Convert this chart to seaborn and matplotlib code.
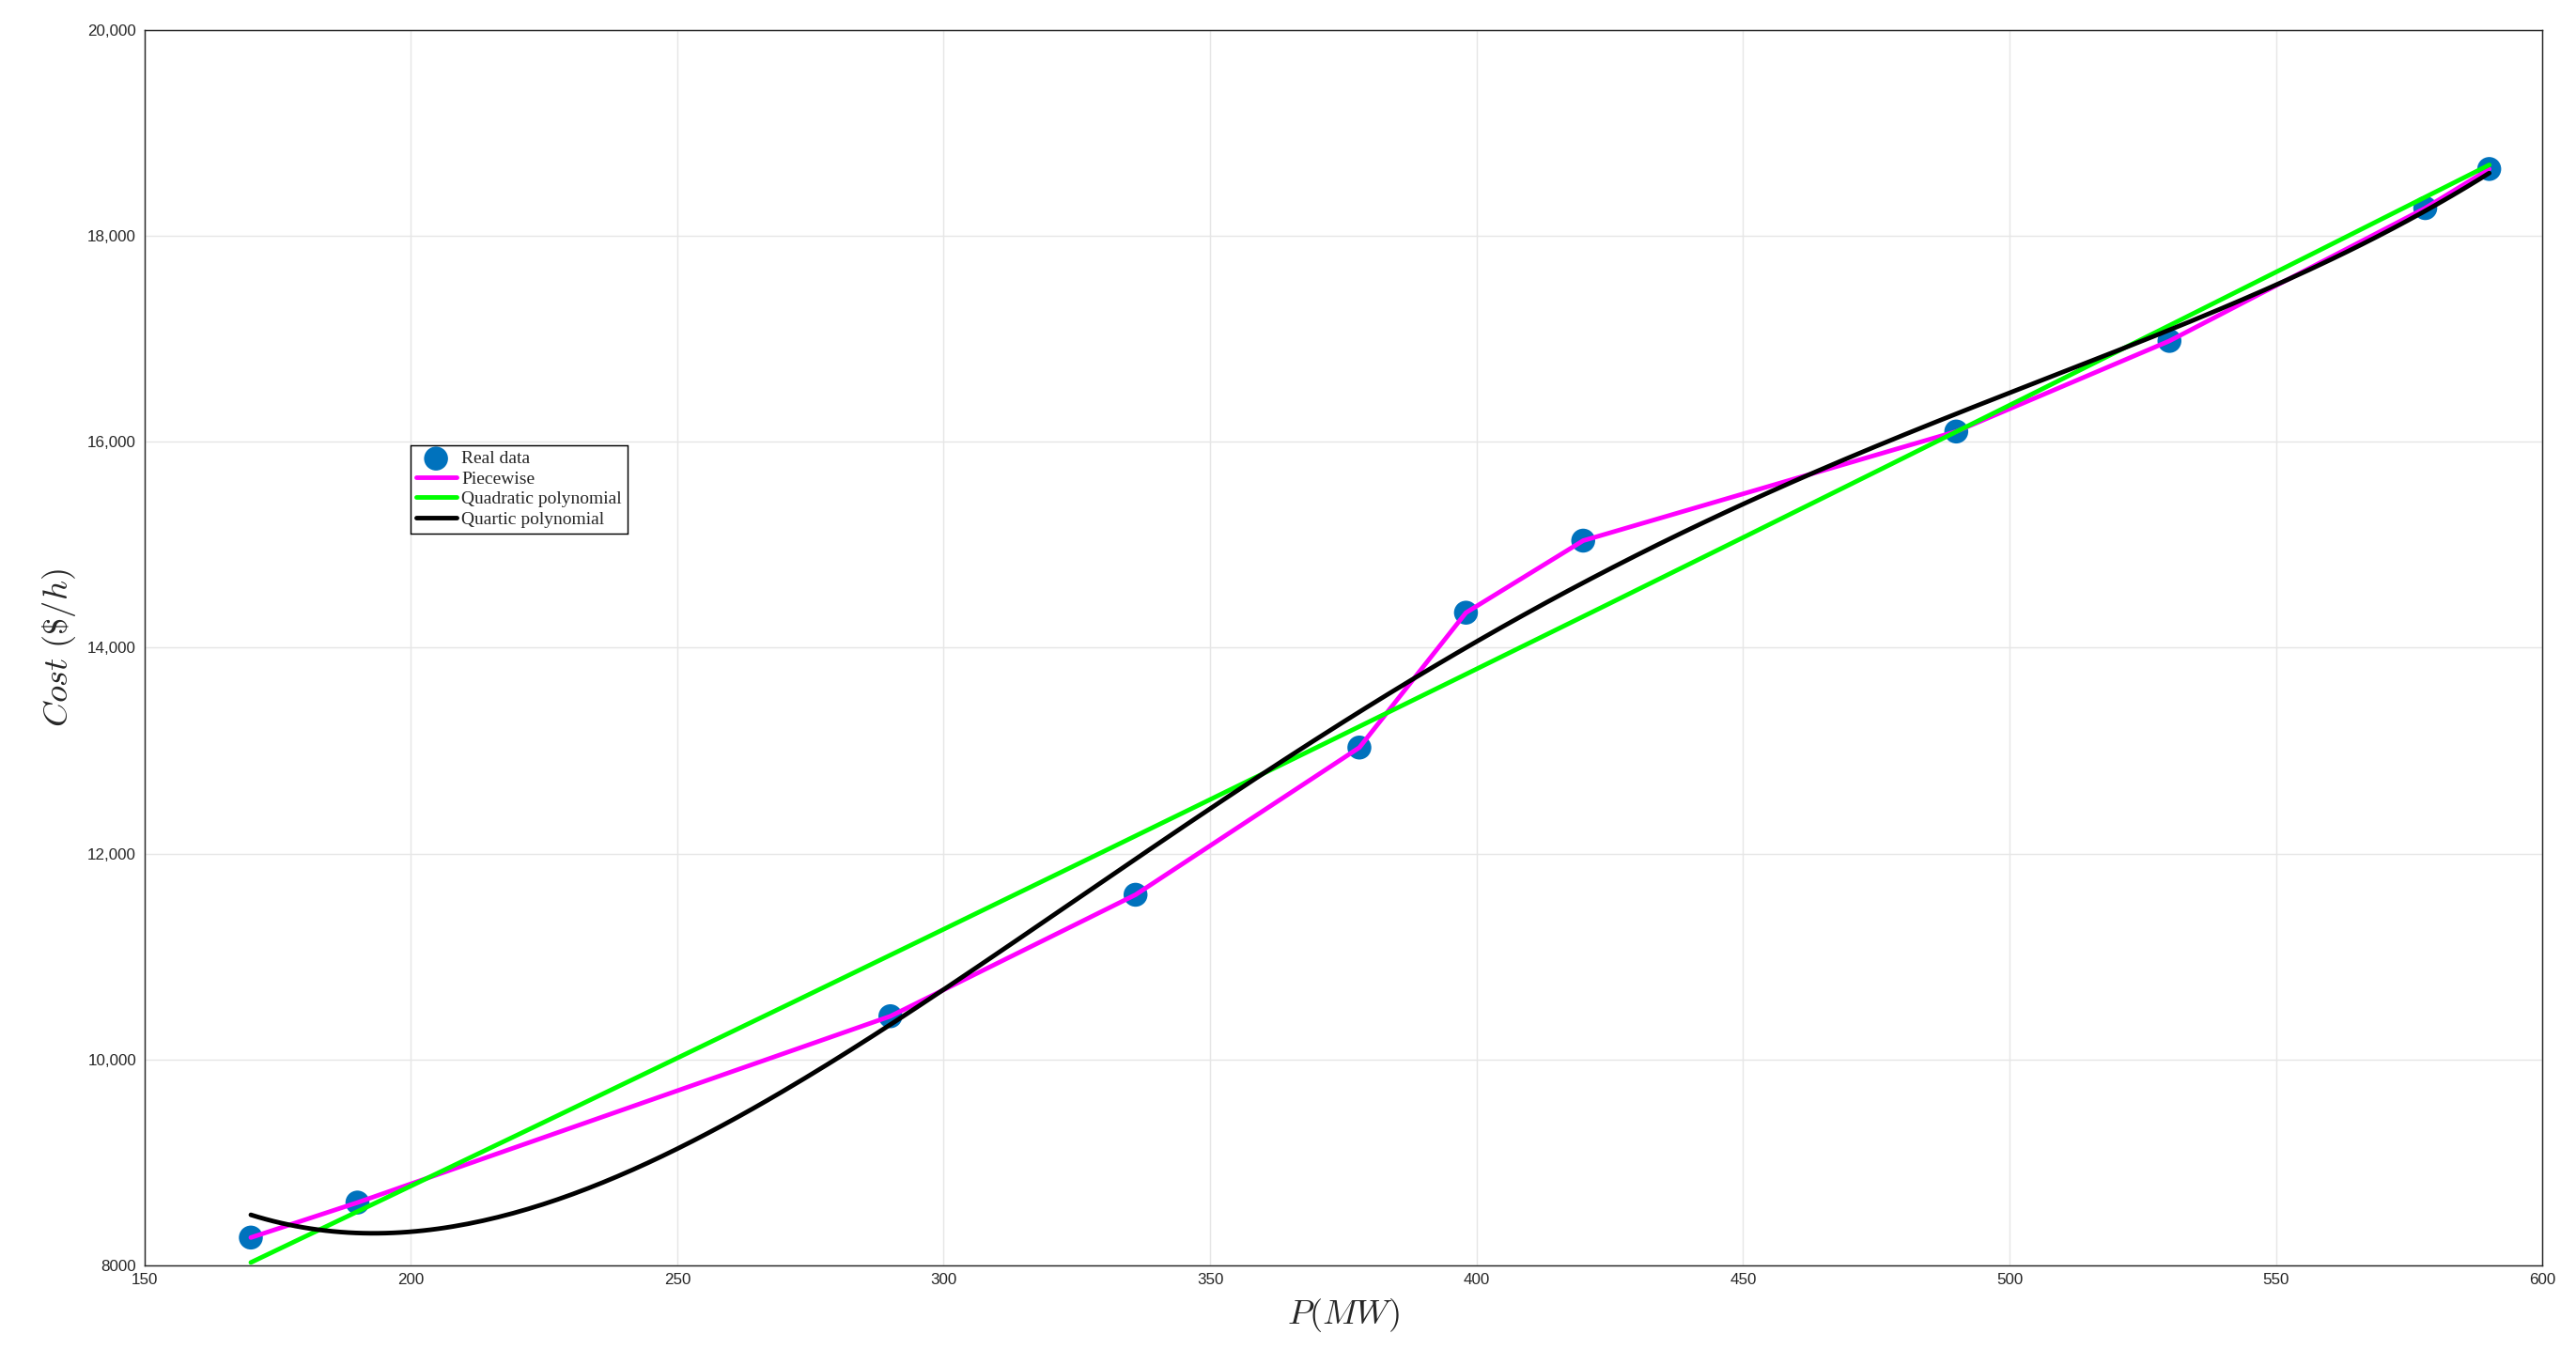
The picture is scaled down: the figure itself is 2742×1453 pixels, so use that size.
import numpy as np
import matplotlib
matplotlib.use("Agg")
import matplotlib.pyplot as plt
import seaborn as sns
from matplotlib.ticker import FuncFormatter

p_mw = [170, 190, 290, 336, 378, 398, 420, 490, 530, 578, 590]
cost = [8270, 8610, 10420, 11600, 13030, 14340, 15040, 16100, 16980, 18270, 18650]

sns.set_theme(style="whitegrid")
plt.rcParams['font.family'] = ['Liberation Sans', 'DejaVu Sans']
plt.rcParams['mathtext.fontset'] = 'cm'

fig, ax = plt.subplots(figsize=(2742/175, 1453/175), dpi=175)
fig.subplots_adjust(left=0.056, right=0.987, top=0.978, bottom=0.073)

xs = np.linspace(170, 590, 300)
q2 = np.polyfit(p_mw, cost, 2)
q4 = np.polyfit(p_mw, cost, 4)

sns.lineplot(x=p_mw, y=cost, color="#ff00ff", lw=2, ax=ax, label="Piecewise", zorder=3)
sns.lineplot(x=xs, y=np.polyval(q2, xs), color="#00ff00", lw=2, ax=ax, label="Quadratic polynomial", zorder=3)
sns.lineplot(x=xs, y=np.polyval(q4, xs), color="black", lw=2, ax=ax, label="Quartic polynomial", zorder=4)
sns.scatterplot(x=p_mw, y=cost, color="#0072bd", s=110, edgecolor="none", ax=ax, label="Real data", zorder=2)

ax.set_xlim(150, 600)
ax.set_ylim(8000, 20000)
ax.set_xticks(range(150, 601, 50))
ax.set_yticks(range(8000, 20001, 2000))
ax.yaxis.set_major_formatter(FuncFormatter(lambda v, _: "8000" if v == 8000 else f"{int(v):,}"))
ax.tick_params(labelsize=7, colors="#262626", length=0)
ax.grid(color="#e6e6e6", lw=0.6)
for s in ax.spines.values():
    s.set_color("#262626"); s.set_linewidth(0.6); s.set_visible(True)
ax.set_facecolor("white")
ax.set_xlabel("$P(MW)$", fontsize=15)
ax.set_ylabel("$Cost\\ (\\$/h)$", fontsize=15)

h, l = ax.get_legend_handles_labels()
order = [l.index(n) for n in ["Real data", "Piecewise", "Quadratic polynomial", "Quartic polynomial"]]
leg = ax.legend([h[i] for i in order], [l[i] for i in order], loc="upper left",
                bbox_to_anchor=(0.111, 0.664), prop={"family": "Liberation Serif", "size": 8},
                fancybox=False, edgecolor="black", framealpha=1, borderpad=0.3,
                labelspacing=0.2, handlelength=2.2, handletextpad=0.3, borderaxespad=0)
leg.get_frame().set_linewidth(0.6)
fig.savefig("out.png", dpi=175)
